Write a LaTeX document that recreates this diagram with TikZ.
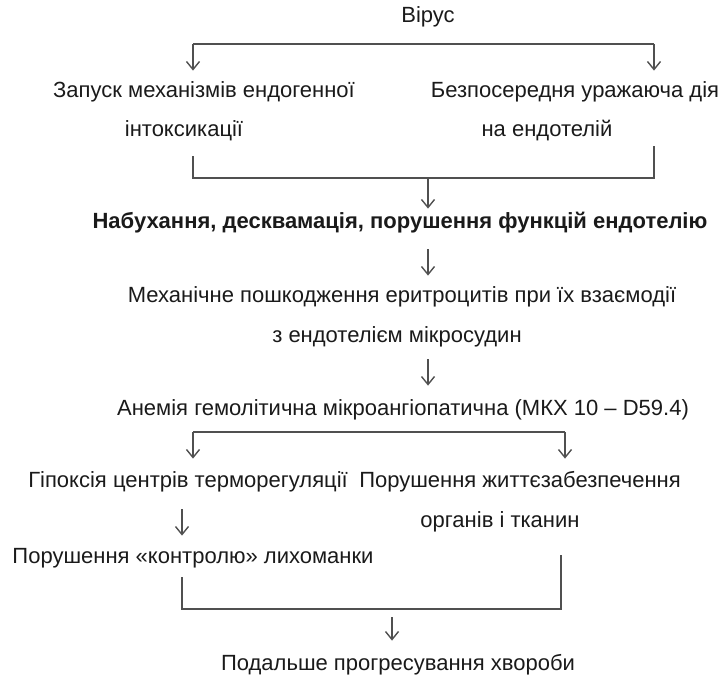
\documentclass[tikz,border=0pt]{standalone}
\usepackage{fontspec}
\setmainfont{Liberation Sans}
\usepackage{xcolor,tikz}
\usetikzlibrary{arrows.meta}
\definecolor{ink}{HTML}{1A1A1A}
\definecolor{wire}{HTML}{505050}

\begin{document}
\begin{tikzpicture}[x=0.5pt,y=-0.5pt,
  font=\fontsize{11}{13}\selectfont,
  txt/.style={text=ink,inner sep=2pt,text height=.75em,text depth=.25em},
  link/.style={draw=wire,line width=0.7pt},
  arr/.style={link,-{Straight Barb[length=4pt,width=6.5pt]}}]
\useasboundingbox (0,0) rectangle (721,679);
% texts
\node[txt] (virus) at (428,18) {Вірус};
\node[txt] (intoxA) at (204,93) {Запуск механізмів ендогенної};
\node[txt] (intoxB) at (184,132) {інтоксикації};
\node[txt] (endoA) at (575,93) {Безпосередня уражаюча дія};
\node[txt] (endoB) at (547,132) {на ендотелій};
\node[txt,font=\fontsize{11}{13}\selectfont\bfseries] (swell) at (400,223) {Набухання, десквамація, порушення функцій ендотелію};
\node[txt] (mechA) at (402,297) {Механічне пошкодження еритроцитів при їх взаємодії};
\node[txt] (mechB) at (397,337) {з ендотелієм мікросудин};
\node[txt] (anemia) at (403,410) {Анемія гемолітична мікроангіопатична (МКХ 10 – D59.4)};
\node[txt] (hypox) at (188,482) {Гіпоксія центрів терморегуляції};
\node[txt] (lifeA) at (520,482) {Порушення життєзабезпечення};
\node[txt] (lifeB) at (500,522) {органів і тканин};
\node[txt] (control) at (193,558) {Порушення «контролю» лихоманки};
\node[txt] (progress) at (398,665) {Подальше прогресування хвороби};
% forks and joins
\coordinate (forkL) at (193,44);
\coordinate (forkR) at (654,44);
\coordinate (joinL) at (193,178);
\coordinate (joinR) at (654,178);
\coordinate (joinM) at (428,178);
\coordinate (splitL) at (193,432);
\coordinate (splitR) at (565,432);
\coordinate (railL) at (182,609);
\coordinate (railR) at (561,609);
\coordinate (railM) at (392,609);
% connectors
\draw[link] (forkL) -- (forkR);
\draw[arr,shorten >=4pt] (forkL) -- (forkL |- intoxA.north);
\draw[arr,shorten >=4pt] (forkR) -- (forkR |- endoA.north);
\draw[link,shorten <=5pt] (intoxB.south -| joinL) -- (joinL) -- (joinR) -- (endoB.south -| joinR);
\draw[arr] (joinM) -- (joinM |- swell.north);
\draw[arr,shorten <=6pt,shorten >=3.5pt] (swell.south -| joinM) -- (mechA.north -| joinM);
\draw[arr,shorten <=4pt,shorten >=5pt] (mechB.south -| joinM) -- (anemia.north -| joinM);
\draw[link] (splitL) -- (splitR);
\draw[arr,shorten >=4.5pt] (splitL) -- (splitL |- hypox.north);
\draw[arr,shorten >=4.5pt] (splitR) -- (splitR |- lifeA.north);
\draw[arr,shorten <=6.5pt,shorten >=4pt] (hypox.south -| railL) -- (control.north -| railL);
\draw[link] (control.south -| railL) ++(0,5) -- (railL) -- (railR) -- ([yshift=-9.5pt]lifeB.south -| railR);
\draw[arr,shorten <=4pt,shorten >=5pt] (railM) -- (railM |- progress.north);
\end{tikzpicture}
\end{document}
